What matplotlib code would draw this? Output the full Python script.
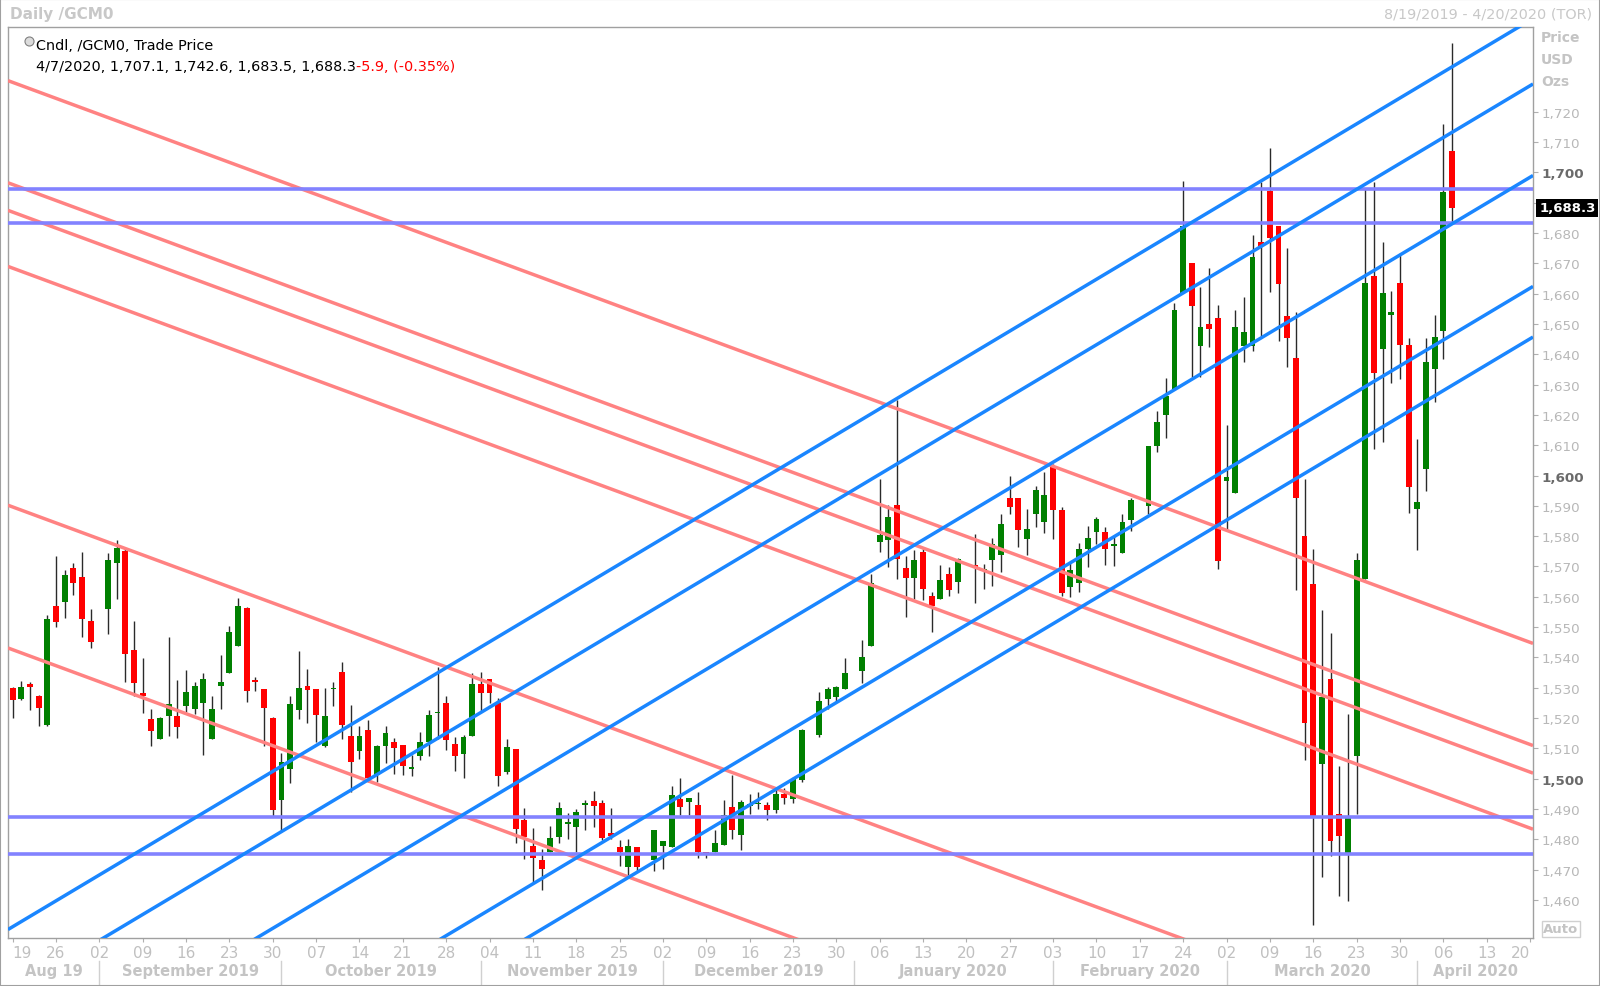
import numpy as np
import pandas as pd
import matplotlib
matplotlib.use('Agg')
import matplotlib.pyplot as plt
import matplotlib.transforms as mtrans
from matplotlib import font_manager
from matplotlib.patches import Rectangle
from matplotlib.lines import Line2D

# trading days (weekdays minus exchange holidays)
holidays = ['2019-09-02', '2019-11-28', '2019-12-25', '2020-01-01', '2020-01-20', '2020-02-17']

opens = [
    # Aug
    1529.9, 1526.3, 1531.3, 1527.2, 1517.8, 1556.9, 1558.4, 1569.5, 1566.5, 1551.9,
    # Sep
    1556.0, 1571.1, 1575.0, 1542.5, 1528.2, 1519.8, 1512.9, 1520.8, 1520.8, 1523.8,
    1522.8, 1525.1, 1513.1, 1530.7, 1534.9, 1543.9, 1556.3, 1532.5, 1529.6, 1520.0,
    # Oct
    1492.8, 1503.2, 1522.7, 1530.5, 1529.4, 1510.6, 1529.4, 1535.1, 1514.0, 1509.0,
    1515.9, 1501.3, 1510.6, 1512.1, 1511.1, 1503.2, 1507.6, 1512.1, 1521.6, 1525.0,
    1511.5, 1508.2, 1514.0,
    # Nov
    1531.3, 1532.7, 1525.0, 1502.1, 1509.8, 1486.4, 1477.9, 1473.2, 1475.7, 1480.7,
    1485.1, 1484.0, 1491.3, 1492.5, 1492.0, 1482.1, 1477.4, 1470.8, 1477.4, 1473.3,
    # Dec
    1477.9, 1477.4, 1493.3, 1492.2, 1491.3, 1475.9, 1475.7, 1478.1, 1490.5, 1481.5,
    1491.1, 1491.5, 1491.4, 1489.5, 1495.0, 1493.3, 1499.4, 1514.4, 1526.3, 1526.9, 1529.6,
    # Jan
    1535.5, 1543.7, 1578.0, 1578.6, 1590.3, 1569.5, 1566.2, 1574.9, 1560.2, 1559.1,
    1567.6, 1564.8, 1570.6, 1568.5, 1572.0, 1573.9, 1592.6, 1592.7, 1579.1, 1587.4, 1584.8,
    # Feb
    1603.3, 1588.5, 1563.2, 1564.5, 1575.8, 1581.5, 1581.5, 1576.7, 1574.5, 1585.2,
    1590.1, 1609.9, 1620.0, 1628.6, 1660.2, 1670.1, 1642.9, 1650.0, 1651.9,
    # Mar
    1598.3, 1594.3, 1642.9, 1642.9, 1677.0, 1693.8, 1682.5, 1652.8, 1638.7, 1580.2,
    1564.3, 1504.8, 1532.9, 1488.4, 1474.7, 1507.3, 1565.9, 1665.7, 1641.8, 1653.0,
    1663.5, 1643.1,
    # Apr
    1589.0, 1602.3, 1635.0, 1647.6, 1707.1]

highs = [
    1530.2, 1532.1, 1531.8, 1527.5, 1554.1, 1573.4, 1568.7, 1571.2, 1574.7, 1555.8,
    1574.4, 1578.8, 1575.8, 1551.9, 1539.7, 1523.0, 1520.3, 1546.7, 1532.5, 1535.7,
    1531.8, 1534.9, 1527.4, 1540.8, 1550.5, 1559.6, 1556.6, 1533.6, 1529.6, 1520.3,
    1508.4, 1527.2, 1542.0, 1536.2, 1529.4, 1529.9, 1531.8, 1538.4, 1524.3, 1517.2,
    1519.2, 1511.1, 1517.2, 1513.4, 1511.1, 1507.9, 1515.3, 1522.5, 1536.8, 1527.2,
    1513.7, 1514.5, 1534.9,
    1535.1, 1532.9, 1526.6, 1513.1, 1509.8, 1490.3, 1483.6, 1476.8, 1484.3, 1492.4,
    1488.7, 1490.0, 1492.8, 1496.0, 1492.8, 1490.3, 1479.6, 1480.1, 1477.4, 1483.2,
    1479.3, 1497.7, 1500.1, 1493.5, 1495.5, 1475.9, 1482.9, 1493.0, 1501.2, 1493.0,
    1495.0, 1495.7, 1492.2, 1496.5, 1497.0, 1500.5, 1516.4, 1528.5, 1530.2, 1530.7, 1539.7,
    1545.8, 1567.6, 1598.9, 1590.3, 1624.8, 1573.6, 1575.3, 1576.0, 1561.5, 1570.5,
    1569.8, 1572.8, 1580.8, 1570.9, 1579.3, 1587.4, 1600.0, 1592.7, 1588.8, 1596.7, 1601.1,
    1603.9, 1589.6, 1571.4, 1577.8, 1583.5, 1586.3, 1583.0, 1580.2, 1587.4, 1592.6,
    1609.9, 1621.4, 1632.2, 1656.9, 1697.1, 1670.1, 1662.1, 1668.4, 1656.3,
    1616.7, 1654.7, 1658.8, 1679.4, 1696.8, 1708.0, 1682.5, 1675.1, 1654.0, 1598.9,
    1575.8, 1555.7, 1548.1, 1504.0, 1521.3, 1574.5, 1694.6, 1697.0, 1677.2, 1660.9,
    1673.5, 1645.3,
    1612.2, 1645.5, 1652.9, 1716.0, 1742.6]

lows = [
    1519.9, 1526.0, 1522.5, 1517.3, 1517.5, 1549.9, 1553.0, 1560.6, 1546.7, 1543.1,
    1547.8, 1559.3, 1532.0, 1527.2, 1521.6, 1510.6, 1512.9, 1514.0, 1513.4, 1521.9,
    1521.4, 1507.8, 1513.1, 1522.8, 1534.9, 1543.9, 1525.4, 1528.8, 1510.7, 1487.8,
    1482.3, 1498.5, 1519.5, 1518.3, 1512.0, 1510.4, 1524.1, 1512.9, 1495.7, 1506.5,
    1498.8, 1498.8, 1505.2, 1501.6, 1501.2, 1500.8, 1506.2, 1507.4, 1513.1, 1509.5,
    1502.4, 1500.2, 1514.0,
    1522.2, 1525.0, 1497.7, 1501.6, 1478.8, 1473.5, 1465.6, 1463.1, 1475.7, 1478.8,
    1480.1, 1475.7, 1482.9, 1484.0, 1479.8, 1480.1, 1471.3, 1467.8, 1469.1, 1469.4,
    1470.2, 1477.4, 1488.0, 1488.0, 1473.8, 1473.8, 1475.7, 1478.1, 1480.1, 1476.5,
    1488.3, 1490.0, 1486.2, 1488.5, 1491.5, 1492.0, 1499.0, 1513.7, 1523.0, 1525.2, 1529.6,
    1531.6, 1543.7, 1574.7, 1569.8, 1565.9, 1553.3, 1559.3, 1558.8, 1548.3, 1559.1,
    1560.1, 1561.3, 1558.0, 1562.4, 1563.5, 1568.1, 1587.4, 1576.4, 1573.8, 1583.0, 1581.1,
    1579.1, 1560.4, 1559.9, 1561.7, 1569.8, 1577.5, 1570.6, 1570.3, 1574.5, 1581.6,
    1587.4, 1607.9, 1612.3, 1628.6, 1660.2, 1632.6, 1632.4, 1642.3, 1569.0,
    1582.4, 1594.3, 1637.4, 1641.2, 1646.2, 1660.7, 1644.5, 1635.7, 1562.2, 1506.2,
    1451.7, 1467.4, 1474.3, 1461.1, 1459.5, 1488.4, 1565.9, 1608.7, 1611.2, 1630.6,
    1631.7, 1587.7,
    1575.5, 1594.9, 1624.3, 1638.3, 1683.5]

closes = [
    1526.0, 1530.2, 1530.2, 1523.2, 1552.7, 1551.8, 1567.3, 1564.4, 1552.5, 1545.2,
    1572.2, 1576.1, 1541.2, 1531.4, 1527.4, 1515.6, 1519.9, 1524.6, 1516.9, 1528.7,
    1530.5, 1532.8, 1523.0, 1531.8, 1548.5, 1556.9, 1528.8, 1531.8, 1523.2, 1489.5,
    1505.4, 1524.7, 1529.9, 1529.3, 1521.0, 1520.5, 1529.8, 1517.7, 1505.4, 1514.2,
    1500.2, 1510.8, 1515.1, 1510.2, 1504.3, 1503.9, 1512.2, 1521.1, 1522.1, 1512.6,
    1507.3, 1513.7, 1531.3,
    1528.3, 1528.3, 1500.7, 1510.4, 1483.4, 1480.7, 1473.8, 1470.2, 1480.3, 1490.3,
    1485.6, 1489.1, 1491.7, 1491.1, 1480.4, 1481.0, 1475.7, 1477.7, 1470.8, 1483.2,
    1479.3, 1494.7, 1490.6, 1493.5, 1475.7, 1475.2, 1478.8, 1488.0, 1483.1, 1492.2,
    1491.7, 1491.8, 1489.8, 1494.8, 1493.5, 1499.9, 1515.9, 1525.6, 1529.6, 1530.2, 1534.9,
    1540.1, 1564.6, 1580.4, 1586.3, 1572.5, 1566.2, 1572.0, 1562.4, 1556.8, 1565.4,
    1562.3, 1572.3, 1569.8, 1568.9, 1577.5, 1584.1, 1589.7, 1581.9, 1582.2, 1595.1, 1593.7,
    1588.5, 1561.3, 1568.7, 1575.8, 1579.4, 1585.7, 1575.8, 1577.5, 1584.6, 1592.0,
    1609.6, 1617.8, 1626.1, 1654.7, 1682.2, 1655.8, 1649.1, 1648.4, 1571.7,
    1599.4, 1649.1, 1647.3, 1672.2, 1675.9, 1678.3, 1663.2, 1645.4, 1592.5, 1518.5,
    1487.2, 1526.8, 1479.3, 1480.9, 1487.0, 1572.0, 1663.5, 1633.8, 1660.2, 1653.8,
    1643.1, 1596.1,
    1591.2, 1637.6, 1645.8, 1693.7, 1688.3]

# drawn studies: price at the left and right edge of the plot
blue_left = [1450.2, 1428.6, 1398.4, 1361.8, 1345.1]
blue_right = [1750.8, 1729.2, 1699.0, 1662.4, 1645.7]
pink_left = [1730.3, 1696.6, 1687.5, 1669.0, 1590.2, 1543.1]
pink_right = [1544.6, 1510.9, 1501.8, 1483.3, 1404.5, 1357.4]
levels = [1694.4, 1683.3, 1487.3, 1475.0]

month_names = ['Aug 19', 'September 2019', 'October 2019', 'November 2019', 'December 2019',
               'January 2020', 'February 2020', 'March 2020', 'April 2020']
price_ticks = list(range(1460, 1730, 10))
last_price = 1688.3

start = np.datetime64('2019-08-19')
days = pd.bdate_range('2019-08-19', '2020-04-07')
days = days[~days.isin(pd.to_datetime(holidays))]
x = np.busday_count(start, days.values.astype('datetime64[D]'))

o = np.array(opens); h = np.array(highs); l = np.array(lows); c = np.array(closes)
up = c >= o
cols = np.where(up, '#008000', '#ff0000')
bot = np.minimum(o, c)
hgt = np.maximum(np.abs(c - o), 0.5)

avail = {f.name for f in font_manager.fontManager.ttflist}
narrow = 'Liberation Sans Narrow' if 'Liberation Sans Narrow' in avail else 'DejaVu Sans'

W, H = 1600, 987
fig = plt.figure(figsize=(16, 9.87), dpi=100)
ax = fig.add_axes([8 / W, 1 - 939 / H, 1525 / W, 911 / H])
xl = (-0.54, 175.35)
ax.set_xlim(*xl)
ax.set_ylim(1447.4, 1748.0)

ax.vlines(x, l, h, color='#2a2a2a', lw=1.0, zorder=2)
ax.bar(x, hgt, bottom=bot, width=0.68, color=cols, linewidth=0, zorder=3)

for a, b in zip(pink_left, pink_right):
    ax.plot(xl, [a, b], color='#ff8282', lw=2.5, zorder=4, solid_capstyle='butt')
for lv in levels:
    ax.axhline(lv, color='#8282ff', lw=2.6, zorder=4)
for a, b in zip(blue_left, blue_right):
    ax.plot(xl, [a, b], color='#1a86ff', lw=2.5, zorder=5, solid_capstyle='butt')

for s in ax.spines.values():
    s.set_color('#a0a0a0')
    s.set_linewidth(1.0)

# right price axis
ax.yaxis.tick_right()
ax.set_yticks(price_ticks)
ax.set_yticklabels(['' if v == 1690 else f'{v:,}' for v in price_ticks])
ax.tick_params(axis='y', length=3.5, width=0.8, color='#b0b0b0', pad=2.5, labelsize=9.7)
for v, lab in zip(price_ticks, ax.get_yticklabels()):
    if v % 100 == 0:
        lab.set_fontweight('bold')
        lab.set_color('#6a6a6a')
    else:
        lab.set_color('#b8b8b8')

# bottom date axis
mondays = pd.date_range('2019-08-19', '2020-04-20', freq='W-MON')
tx = np.busday_count(start, mondays.values.astype('datetime64[D]'))
ax.set_xticks(tx)
ax.set_xticklabels(mondays.strftime('%d'))
ax.tick_params(axis='x', length=3, width=0.8, color='#b0b0b0', pad=2, labelsize=11,
               labelcolor='#c0c0c0')
for lab in ax.get_xticklabels():
    lab.set_family(narrow)
xlabs = ax.get_xticklabels()
xlabs[0].set_horizontalalignment('left')
xlabs[-1].set_horizontalalignment('right')

mstarts = pd.date_range('2019-09-01', '2020-04-30', freq='BMS')
mx = list(np.busday_count(start, mstarts.values.astype('datetime64[D]')))
bounds = [xl[0]] + mx + [xl[1]]
tr = ax.get_xaxis_transform()
for d in mx:
    ax.plot([d, d], [-0.025, -0.053], transform=tr, clip_on=False, color='#d0d0d0', lw=1)
for k, name in enumerate(month_names):
    ax.text((bounds[k] + bounds[k + 1]) / 2, -0.0362, name, transform=tr, ha='center',
            va='center', fontsize=10.5, fontweight='bold', color='#c4c4c4', family=narrow)

# last price marker
btr = mtrans.blended_transform_factory(ax.transAxes, ax.transData)
ax.text(1.004, last_price, f'{last_price:,.1f}', transform=btr, ha='left', va='center',
        fontsize=9.5, fontweight='bold', color='white', clip_on=False, zorder=10,
        bbox=dict(boxstyle='square,pad=0.2', fc='black', ec='none'))

# header and legend texts
fig.text(10 / W, 1 - 15 / H, 'Daily /GCM0', ha='left', va='center', fontsize=11,
         fontweight='bold', color='#c8c8c8')
fig.text(1592 / W, 1 - 15 / H, '8/19/2019 - 4/20/2020 (TOR)', ha='right', va='center',
         fontsize=10.4, color='#c8c8c8')
for yy, s in zip([38, 60, 82], ['Price', 'USD', 'Ozs']):
    fig.text(1541 / W, 1 - yy / H, s, ha='left', va='center', fontsize=10,
             fontweight='bold', color='#c4c4c4')
fig.text(1543 / W, 1 - 930 / H, 'Auto', ha='left', va='center', fontsize=9.5,
         fontweight='bold', color='#c4c4c4',
         bbox=dict(boxstyle='square,pad=0.1', fc='white', ec='#d0d0d0', lw=1))

fig.add_artist(Line2D([29 / W], [1 - 42 / H], marker='o', ms=6.5, mfc='#dcdcdc',
                      mec='#808080', mew=0.8, transform=fig.transFigure))
fig.text(36 / W, 1 - 46 / H, 'Cndl, /GCM0, Trade Price', ha='left', va='center',
         fontsize=10.4, color='black')
t2 = fig.text(36 / W, 1 - 67 / H, '4/7/2020, 1,707.1, 1,742.6, 1,683.5, 1,688.3', ha='left',
              va='center', fontsize=10.4, color='black')
ax.annotate('-5.9, (-0.35%)', xy=(1, 0), xycoords=t2, ha='left', va='bottom', fontsize=10.4,
            color='#ff0000', annotation_clip=False)

fig.add_artist(Rectangle((0, 0), 1, 1, transform=fig.transFigure, fill=False,
                         ec='#a0a0a0', lw=1.5))

fig.savefig('out.png', dpi=100)
